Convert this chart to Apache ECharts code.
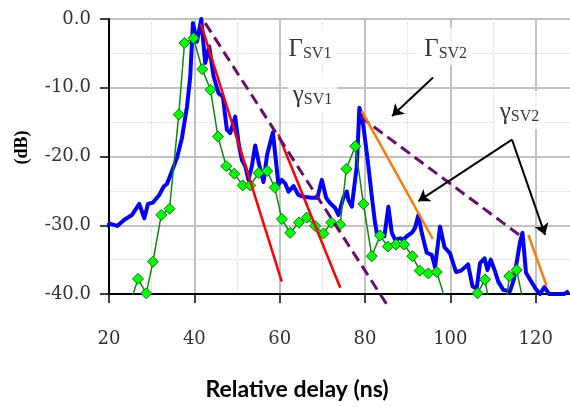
<!DOCTYPE html>
<html>
<head>
<meta charset="utf-8">
<script src="https://cdn.jsdelivr.net/npm/echarts@6/dist/echarts.min.js"></script>
<style>
  html, body { margin: 0; padding: 0; background: #fff; }
  #chart { width: 570px; height: 407px; }
</style>
</head>
<body>
<div id="chart"></div>
<script>
// Measured power delay profile (blue): delay in ns, power in dB
const profileDelay = [18.36, 20.30, 21.94, 23.58, 25.39, 27.10, 28.27, 29.13, 30.30, 31.78,
  32.79, 33.58, 34.59, 35.93, 37.10, 38.27, 39.04, 39.67, 40.61, 41.62,
  42.55, 43.49, 44.50, 45.67, 46.70, 47.63, 48.41, 49.58, 50.35, 51.15,
  51.92, 52.69, 53.49, 54.26, 55.20, 56.21, 57.07, 58.41, 59.72, 60.47,
  61.29, 62.06, 63.23, 64.40, 65.97, 67.54, 68.85, 69.88, 70.89, 71.83,
  73.00, 73.77, 74.94, 75.74, 76.11, 76.91, 77.68, 78.08, 78.69, 79.63,
  80.80, 81.59, 82.37, 82.76, 83.54, 84.54, 85.48, 86.28, 87.05, 88.22,
  88.99, 89.79, 90.96, 91.73, 92.51, 93.30, 94.47, 95.64, 96.42, 97.59,
  98.64, 99.93, 101.33, 102.51, 104.15, 105.20, 106.18, 106.96, 108.01, 108.71,
  109.48, 110.35, 111.24, 112.41, 113.98, 114.92, 116.32, 116.91, 117.73, 118.67,
  119.95, 121.01, 122.06, 123.11, 124.92, 126.63, 127.80];
const profileDb = [-30.4, -29.8, -30.1, -29.2, -28.5, -26.9, -29.0, -26.9, -26.7, -25.6,
  -24.4, -24.0, -22.4, -20.2, -17.3, -12.8, -8.4, -0.6, -3.3, 0.0,
  -6.4, -4.0, -8.3, -10.8, -11.3, -16.1, -16.6, -14.2, -18.0, -20.5,
  -21.4, -23.4, -21.4, -18.4, -21.2, -23.7, -19.7, -16.5, -24.1, -23.4,
  -23.9, -25.1, -24.3, -25.6, -25.9, -26.0, -26.0, -23.4, -26.0, -26.8,
  -27.5, -28.5, -26.0, -25.1, -26.3, -27.3, -23.4, -21.4, -12.9, -15.6,
  -21.4, -25.8, -29.7, -31.1, -31.1, -31.6, -27.3, -31.1, -32.1, -31.9,
  -32.1, -31.6, -31.1, -30.4, -28.5, -31.1, -34.0, -34.3, -36.1, -30.2,
  -33.2, -34.1, -36.8, -36.6, -35.7, -38.9, -39.2, -35.5, -34.8, -36.5,
  -35.0, -36.5, -38.2, -39.4, -39.6, -37.8, -32.5, -31.1, -36.9, -37.9,
  -39.2, -40.0, -39.0, -40.0, -40.0, -40.0, -39.6];

// Sampled profile (green diamonds); samples under -40 dB fall below the axis
const sampleDelay = [24.85, 26.79, 28.74, 30.30, 32.25, 34.19, 36.35, 37.70, 39.81, 41.85,
  43.79, 45.53, 47.47, 49.39, 51.33, 53.09, 55.08, 57.07, 58.83, 60.52,
  62.46, 64.52, 66.37, 68.31, 70.26, 72.11, 74.17, 75.62, 77.73, 79.63,
  81.59, 83.54, 85.34, 87.28, 89.16, 91.10, 92.83, 94.85, 96.81, 98.7,
  100.6, 102.5, 104.5, 106.37, 108.13, 110.0, 111.9, 113.82, 115.55, 117.5];
const sampleDb = [-41.6, -37.8, -39.9, -35.3, -28.5, -27.6, -13.9, -3.5, -2.8, -7.3,
  -10.3, -17.1, -21.4, -22.5, -24.2, -24.2, -22.4, -22.1, -24.5, -29.1,
  -31.1, -29.6, -28.9, -30.1, -31.2, -29.6, -29.9, -21.8, -18.5, -26.9,
  -34.5, -31.5, -33.1, -32.8, -32.8, -34.5, -36.6, -37.0, -36.8, -40.6,
  -45.0, -45.0, -44.5, -39.9, -37.9, -44.6, -48.0, -37.4, -36.5, -42.4];

// Decay slopes, each as [start, end] in (ns, dB)
const intraDecaySV1a = [[41.55, -0.7], [60.5, -38.2]];
const intraDecaySV1b = [[59.7, -16.8], [74.2, -39.1]];
const clusterDecaySV1 = [[42.55, -0.6], [85.4, -41.8]];
const clusterDecaySV2 = [[78.85, -14.2], [117.0, -31.8]];
const intraDecaySV2a = [[79.25, -13.4], [95.9, -32.0]];
const intraDecaySV2b = [[118.3, -31.4], [122.6, -38.9]];

// Decay-constant annotations
const noteSymbol = ['Γ', 'γ', 'Γ', 'γ'];
const noteSub = ['SV1', 'SV1', 'SV2', 'SV2'];
const noteDelay = [67.1, 67.7, 98.9, 116.2];
const noteDb = [-4.0, -10.8, -4.0, -13.25];

// Pointer arrows from annotations to slopes
const arrowFrom = [[95.95, -8.5], [114.45, -17.55], [114.45, -17.55]];
const arrowTo = [[86.35, -14.1], [92.5, -26.5], [122.2, -31.4]];

// Axis ticks
const delayTicks = { min: 20, max: 140, step: 20 };
const dbTicks = { min: -40, max: 0, step: 10 };

const zip = (xs, ys) => xs.map((x, i) => [x, ys[i]]);

const serif = 'DejaVu Serif';
const noteFont = 'Liberation Serif';

function fitLine(points, color, dashed) {
  return {
    type: 'line',
    data: points,
    showSymbol: false,
    clip: false,
    z: 4,
    lineStyle: { color: color, width: dashed ? 3 : 2.5, type: dashed ? [11, 6] : 'solid', cap: 'butt' },
    emphasis: { disabled: true }
  };
}

const chart = echarts.init(document.getElementById('chart'), null, { renderer: 'canvas' });

chart.setOption({
  animation: false,
  backgroundColor: '#fff',
  // the 120-140 ns span lies past the right edge of the canvas
  grid: { left: 109, width: 512, top: 19, height: 275, containLabel: false, outerBoundsMode: 'none' },
  graphic: [{
    type: 'text',
    x: 22,
    y: 147.5,
    rotation: Math.PI / 2,
    style: {
      text: '(dB)',
      fontFamily: noteFont, fontWeight: 'bold', fontSize: 18, fill: '#000',
      align: 'center', verticalAlign: 'middle'
    }
  }],
  xAxis: {
    type: 'value',
    min: delayTicks.min,
    max: delayTicks.max,
    interval: delayTicks.step,
    name: 'Relative delay (ns)',
    nameLocation: 'middle',
    nameGap: 84,
    nameTextStyle: {
      fontFamily: 'Lato', fontWeight: 'bold', fontSize: 23, color: '#000',
      padding: [0, 136, 0, 0]
    },
    axisLine: { show: true, onZero: false, lineStyle: { color: '#000', width: 2 } },
    axisTick: { show: true, inside: false, length: 9, lineStyle: { color: '#000', width: 1.5 } },
    minorTick: { show: false, splitNumber: 2 },
    axisLabel: {
      fontFamily: serif, fontSize: 18, color: '#333', margin: 36,
      showMaxLabel: false
    },
    splitLine: { show: true, lineStyle: { color: '#c2c2c2', width: 2 } },
    minorSplitLine: { show: true, lineStyle: { color: '#d8d8d8', width: 1, type: 'dotted' } }
  },
  yAxis: {
    type: 'value',
    min: dbTicks.min,
    max: dbTicks.max,
    interval: dbTicks.step,
    axisLine: { show: true, onZero: false, lineStyle: { color: '#000', width: 2 } },
    axisTick: { show: true, inside: false, length: 9, lineStyle: { color: '#000', width: 1.5 } },
    minorTick: { show: false, splitNumber: 2 },
    axisLabel: {
      fontFamily: serif, fontSize: 18, color: '#333', margin: 18,
      formatter: v => v.toFixed(1)
    },
    splitLine: { show: true, lineStyle: { color: '#c2c2c2', width: 2 } },
    minorSplitLine: { show: true, lineStyle: { color: '#d8d8d8', width: 1, type: 'dotted' } }
  },
  series: [
    {
      name: 'profile',
      type: 'line',
      data: zip(profileDelay, profileDb),
      showSymbol: false,
      clip: false,
      z: 2,
      lineStyle: { color: '#0000ff', width: 4, join: 'round' },
      emphasis: { disabled: true }
    },
    {
      name: 'samples',
      type: 'line',
      data: zip(sampleDelay, sampleDb),
      clip: true,
      z: 3,
      symbol: 'diamond',
      symbolSize: 11,
      showAllSymbol: true,
      itemStyle: { color: '#00ff00', borderColor: '#0a7a0a', borderWidth: 1 },
      lineStyle: { color: '#0a8a0a', width: 1.5 },
      emphasis: { disabled: true }
    },
    fitLine(intraDecaySV1a, '#ff0000', false),
    fitLine(intraDecaySV1b, '#ff0000', false),
    fitLine(clusterDecaySV1, '#680c6e', true),
    fitLine(clusterDecaySV2, '#680c6e', true),
    fitLine(intraDecaySV2a, '#ff7a00', false),
    fitLine(intraDecaySV2b, '#ff7a00', false),
    {
      name: 'arrows',
      type: 'lines',
      coordinateSystem: 'cartesian2d',
      z: 5,
      symbol: ['none', 'arrow'],
      symbolSize: 11,
      lineStyle: { color: '#000', width: 2, opacity: 1, curveness: 0 },
      data: arrowFrom.map((p, i) => ({ coords: [p, arrowTo[i]] })),
      emphasis: { disabled: true }
    },
    {
      name: 'notes',
      type: 'scatter',
      z: 6,
      symbolSize: 1,
      itemStyle: { color: 'rgba(0,0,0,0)' },
      data: noteDelay.map((x, i) => ({ value: [x, noteDb[i]] })),
      label: {
        show: true,
        position: 'inside',
        color: '#000',
        backgroundColor: '#fff',
        padding: [4, 5, 4, 5],
        formatter: p => '{m|' + noteSymbol[p.dataIndex] + '}{s|' + noteSub[p.dataIndex] + '}',
        rich: {
          m: { fontFamily: noteFont, fontSize: 25, lineHeight: 30, verticalAlign: 'bottom', color: '#000' },
          s: { fontFamily: noteFont, fontSize: 16, lineHeight: 12.6, verticalAlign: 'bottom', color: '#000' }
        }
      },
      emphasis: { disabled: true }
    }
  ]
});
</script>
</body>
</html>
